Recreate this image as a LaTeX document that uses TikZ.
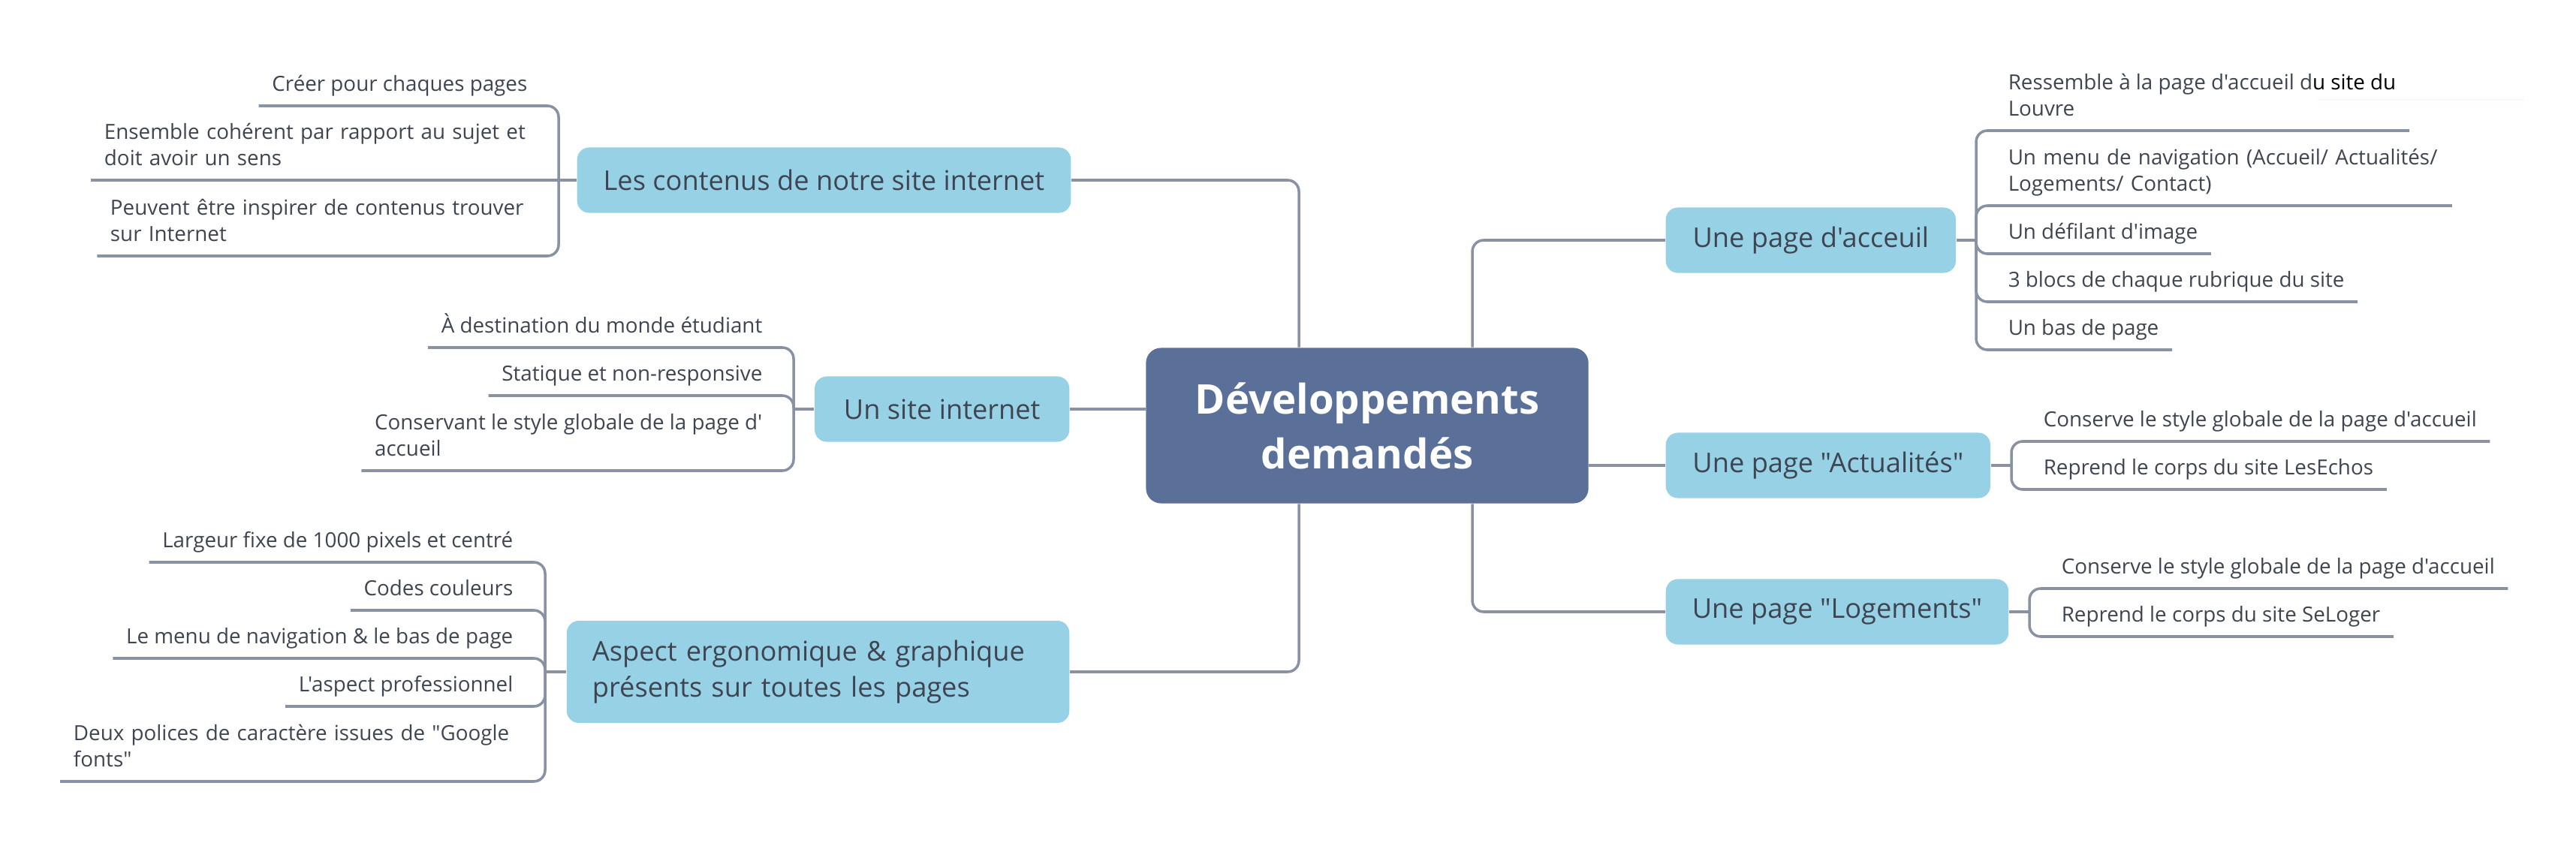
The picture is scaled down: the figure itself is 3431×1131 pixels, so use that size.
\documentclass[tikz,border=0pt]{standalone}
\usepackage{fontspec}
\setmainfont{Open Sans}[Ligatures=TeXOff]
\usepackage{tikz}
\usetikzlibrary{positioning}

\definecolor{boxblue}{HTML}{97D1E6}
\definecolor{rootblue}{HTML}{5A7099}
\definecolor{linegray}{HTML}{8892A3}
\definecolor{txtgray}{HTML}{3E4550}

\tikzset{
  root/.style={fill=rootblue, text=white, rounded corners=0.2cm, minimum width=5.89cm,
    minimum height=2.07cm, align=center, font=\fontsize{15.5}{20.8}\selectfont\bfseries},
  topic/.style={fill=boxblue, text=txtgray, rounded corners=0.16cm, minimum height=0.87cm,
    inner xsep=0.35cm, font=\fontsize{10.3}{13.7}\selectfont},
  leaf/.style={text=txtgray, inner xsep=0.17cm, inner ysep=0.085cm,
    font=\fontsize{7.9}{10}\selectfont, execute at end node=\strut},
  leafL/.style={leaf, anchor=south east, align=right},
  leafR/.style={leaf, anchor=south west, align=left},
  conn/.style={draw=linegray, line width=1pt, rounded corners=0.15cm},
}

\begin{document}
\begin{tikzpicture}[x=0.01cm, y=-0.01cm]
        \useasboundingbox (0,0) rectangle (3431,1131);

        % centre
        \node[root] (centre) at (1821,567) {Développements\\demandés};
        \coordinate (tl) at (1730,567);
        \coordinate (tr) at (1961,567);

        % left topics
        \node[topic, anchor=east, minimum width=6.57cm] (contenus) at (1427,240) {Les contenus de notre site internet};
        \node[topic, anchor=east, minimum width=3.39cm] (site) at (1425,545) {Un site internet};
        \node[topic, anchor=east, minimum height=1.36cm, inner xsep=0.34cm, text width=6.01cm, align=left] (aspect) at (1425,895)
            {Aspect ergonomique \& graphique\\présents sur toutes les pages};

        % right topics
        \node[topic, anchor=west, minimum width=3.86cm] (accueil) at (2218,320) {Une page d'acceuil};
        \node[topic, anchor=west, minimum width=4.32cm] (actu) at (2218,620) {Une page "Actualités"};
        \node[topic, anchor=west, minimum width=4.55cm] (logements) at (2218,815) {Une page "Logements"};

        \draw[conn] (tl |- centre.north) |- (contenus.east);
        \draw[conn] (tl |- centre.south) |- (aspect.east);
        \draw[conn] (centre.west |- site.east) -- (site.east);
        \draw[conn] (tr |- centre.north) |- (accueil.west);
        \draw[conn] (tr |- centre.south) |- (logements.west);
        \draw[conn] (centre.east |- actu.west) -- (actu.west);

        % les contenus
        \coordinate (bA) at (744,240);
        \node[leafL] (a1) at (720,141) {Créer pour chaques pages};
        \node[leafL, align=left, text width=5.63cm] (a2) at (720,240) {Ensemble cohérent par rapport au sujet et\\doit avoir un sens};
        \node[leafL, align=left, text width=5.55cm] (a3) at (720,341) {Peuvent être inspirer de contenus trouver\\sur Internet};
        \draw[conn] (contenus.west) -- (bA) -- (a2.south west);
        \foreach \n in {a1,a3} \draw[conn] (bA) |- (\n.south west);

        % un site internet
        \coordinate (bB) at (1057,545);
        \node[leafL] (b1) at (1033,463) {À destination du monde étudiant};
        \node[leafL] (b2) at (1033,527) {Statique et non-responsive};
        \node[leafL, align=left] (b3) at (1033,627) {Conservant le style globale de la page d'\\accueil};
        \draw[conn] (site.west) -- (bB);
        \foreach \n in {b1,b2,b3} \draw[conn] (bB) |- (\n.south west);

        % aspect
        \coordinate (bC) at (726,895);
        \node[leafL] (c1) at (701,749) {Largeur fixe de 1000 pixels et centré};
        \node[leafL] (c2) at (701,813) {Codes couleurs};
        \node[leafL] (c3) at (701,877) {Le menu de navigation \& le bas de page};
        \node[leafL] (c4) at (701,941) {L'aspect professionnel};
        \node[leafL, align=left, text width=5.85cm] (c5) at (701,1041) {Deux polices de caractère issues de "Google\\fonts"};
        \draw[conn] (aspect.west) -- (bC);
        \foreach \n in {c1,c2,c3,c4,c5} \draw[conn] (bC) |- (\n.south west);

        % page d'accueil
        \coordinate (bD) at (2632,320);
        \node[leafR] (d1) at (2657,174) {Ressemble à la page d'accueil d{\color{black}u site du}\\Louvre};
        \node[leafR, text width=5.73cm] (d2) at (2657,274) {Un menu de navigation (Accueil/ Actualités/\\Logements/ Contact)};
        \node[leafR] (d3) at (2657,338) {Un défilant d'image};
        \node[leafR] (d4) at (2657,402) {3 blocs de chaque rubrique du site};
        \node[leafR] (d5) at (2657,466) {Un bas de page};
        \draw[conn] (accueil.east) -- (bD);
        \foreach \n in {d1,d2,d3,d4,d5} \draw[conn] (bD) |- (\n.south east);
        \draw[red!4, line width=0.4pt] (3087,133) -- (3362,133);

        % actualites
        \coordinate (bE) at (2679,620);
        \node[leafR] (e1) at (2704,588) {Conserve le style globale de la page d'accueil};
        \node[leafR] (e2) at (2704,652) {Reprend le corps du site LesEchos};
        \draw[conn] (actu.east) -- (bE);
        \foreach \n in {e1,e2} \draw[conn] (bE) |- (\n.south east);

        % logements
        \coordinate (bF) at (2703,815);
        \node[leafR] (f1) at (2728,784) {Conserve le style globale de la page d'accueil};
        \node[leafR] (f2) at (2728,848) {Reprend le corps du site SeLoger};
        \draw[conn] (logements.east) -- (bF);
        \foreach \n in {f1,f2} \draw[conn] (bF) |- (\n.south east);

\end{tikzpicture}
\end{document}
